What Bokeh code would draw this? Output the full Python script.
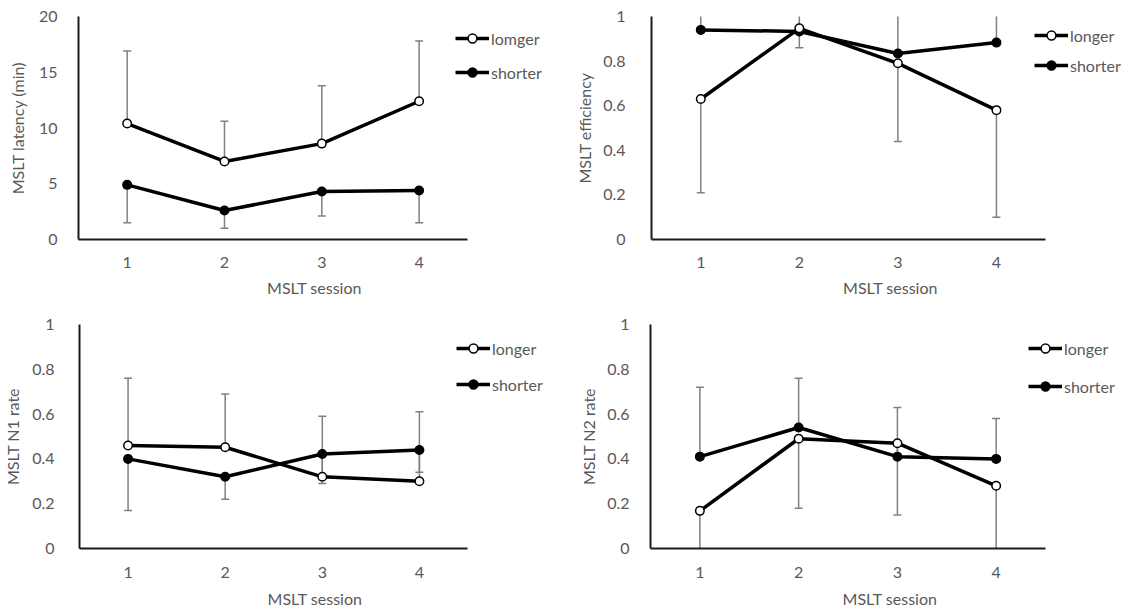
from bokeh.plotting import figure
from bokeh.layouts import column, row
from bokeh.models import Range1d, FixedTicker, Legend, LegendItem
from bokeh.embed import file_html
from bokeh.resources import INLINE

# ---------------- data ----------------
sessions = [1, 2, 3, 4]
x_label = "MSLT session"

# Panel A: MSLT latency (min)
lat_longer = [10.4, 7.0, 8.6, 12.4]
lat_longer_upper = [16.9, 10.6, 13.8, 17.8]
lat_shorter = [4.9, 2.6, 4.3, 4.4]
lat_shorter_lower = [1.5, 1.0, 2.1, 1.5]
lat_ticks = [0, 5, 10, 15, 20]

# Panel B: MSLT efficiency
eff_longer = [0.63, 0.947, 0.79, 0.58]
eff_longer_lower = [0.21, 0.86, 0.44, 0.10]
eff_shorter = [0.94, 0.933, 0.834, 0.883]
eff_shorter_upper = [1.06, 1.05, 1.12, 1.08]

# Panel C: MSLT N1 rate
n1_longer = [0.46, 0.452, 0.32, 0.30]
n1_longer_upper = [0.76, 0.69, 0.59, 0.61]
n1_shorter = [0.40, 0.32, 0.422, 0.44]
n1_shorter_lower = [0.17, 0.22, 0.29, 0.34]

# Panel D: MSLT N2 rate
n2_longer = [0.168, 0.49, 0.47, 0.28]
n2_longer_lower = [-0.08, 0.18, 0.15, -0.04]
n2_shorter = [0.41, 0.54, 0.41, 0.40]
n2_shorter_upper = [0.72, 0.76, 0.63, 0.58]

unit_ticks = [0, 0.2, 0.4, 0.6, 0.8, 1]
unit_labels = {0: "0", 0.2: "0.2", 0.4: "0.4", 0.6: "0.6", 0.8: "0.8", 1: "1"}

FONT = "Lato"
GRAY = "#595959"
ERR = "#808080"


def make_panel(width, height, borders, x_end, y_end, yticks, ylabels, ylabel,
               longer, longer_bound, shorter, shorter_bound, legend_names,
               legend_xy, legend_spacing, y_std, y_ls, x_std, x_ls):
    left, right, top, bottom = borders
    p = figure(width=width, height=height, output_backend="svg",
               toolbar_location=None,
               x_range=Range1d(0.5, x_end), y_range=Range1d(0, y_end),
               min_border_left=left, min_border_right=right,
               min_border_top=top, min_border_bottom=bottom)
    p.outline_line_color = None
    p.xgrid.visible = False
    p.ygrid.visible = False
    p.background_fill_color = "white"
    p.border_fill_color = "white"

    for ax in (p.xaxis[0], p.yaxis[0]):
        ax.axis_line_color = "#1a1a1a"
        ax.axis_line_width = 2
        ax.major_tick_line_color = None
        ax.minor_tick_line_color = None
        ax.major_label_text_font = FONT
        ax.major_label_text_font_size = "16px"
        ax.major_label_text_color = GRAY
        ax.axis_label_text_font = FONT
        ax.axis_label_text_font_size = "16px"
        ax.axis_label_text_color = GRAY
        ax.axis_label_text_font_style = "normal"

    p.xaxis.ticker = FixedTicker(ticks=sessions)
    p.xaxis.bounds = (0.5, 4.5)
    p.xaxis.axis_label = x_label
    p.xaxis.major_label_standoff = x_std
    p.xaxis.axis_label_standoff = x_ls

    p.yaxis.ticker = FixedTicker(ticks=yticks)
    p.yaxis.major_label_overrides = ylabels
    p.yaxis.axis_label = ylabel
    p.yaxis.major_label_standoff = y_std
    p.yaxis.axis_label_standoff = y_ls

    # error bars (one-sided)
    for vals, bound in ((longer, longer_bound), (shorter, shorter_bound)):
        p.segment(x0=sessions, y0=vals, x1=sessions, y1=bound,
                  line_color=ERR, line_width=1.5)
        p.scatter(x=sessions, y=bound, marker="dash", size=8,
                  line_color=ERR, line_width=1.5)

    ls = p.line(sessions, shorter, line_color="black", line_width=3.5)
    ll = p.line(sessions, longer, line_color="black", line_width=3.5)
    ms = p.scatter(sessions, shorter, marker="circle", size=8.5,
                   fill_color="black", line_color="black", line_width=1.5)
    ml = p.scatter(sessions, longer, marker="circle", size=8.5,
                   fill_color="white", line_color="black", line_width=1.5)

    legend = Legend(items=[LegendItem(label=legend_names[0], renderers=[ll, ml]),
                           LegendItem(label=legend_names[1], renderers=[ls, ms])],
                    location=legend_xy, glyph_width=34, glyph_height=22,
                    label_standoff=2, padding=0, margin=0,
                    spacing=legend_spacing,
                    label_text_font=FONT, label_text_font_size="16px",
                    label_text_color=GRAY, border_line_alpha=0,
                    background_fill_alpha=0)
    p.add_layout(legend, "center")
    return p


# borders shared per grid column / row (left, right) and (top, bottom)
C1 = (78, 22)
C2 = (78, 1)
R1 = (16, 62)
R2 = (23, 65)
X_END = 5.35

p1 = make_panel(572, 301, (C1[0], C1[1], R1[0], R1[1]), X_END, 20, lat_ticks,
                {v: str(v) for v in lat_ticks}, "MSLT latency (min)",
                lat_longer, lat_longer_upper, lat_shorter, lat_shorter_lower,
                ("lomger", "shorter"), (377, 156), 12,
                15, 9, 11, 7)
p2 = make_panel(558, 301, (C2[0], C2[1], R1[0], R1[1]), X_END, 1, unit_ticks, unit_labels,
                "MSLT efficiency",
                eff_longer, eff_longer_lower, eff_shorter, eff_shorter_upper,
                ("longer", "shorter"), (383, 163), 8,
                20, 6, 11, 7)
p3 = make_panel(572, 312, (C1[0], C1[1], R2[0], R2[1]), X_END, 1, unit_ticks, unit_labels,
                "MSLT N1 rate",
                n1_longer, n1_longer_upper, n1_shorter, n1_shorter_lower,
                ("longer", "shorter"), (377, 153), 14,
                19, 7, 12, 8)
p4 = make_panel(558, 312, (C2[0], C2[1], R2[0], R2[1]), X_END, 1, unit_ticks, unit_labels,
                "MSLT N2 rate",
                n2_longer, n2_longer_lower, n2_shorter, n2_shorter_upper,
                ("longer", "shorter"), (378, 151), 16,
                15, 6, 12, 8)

layout = column(row(p1, p2), row(p3, p4))
open("out.html", "w").write(file_html(layout, INLINE))
